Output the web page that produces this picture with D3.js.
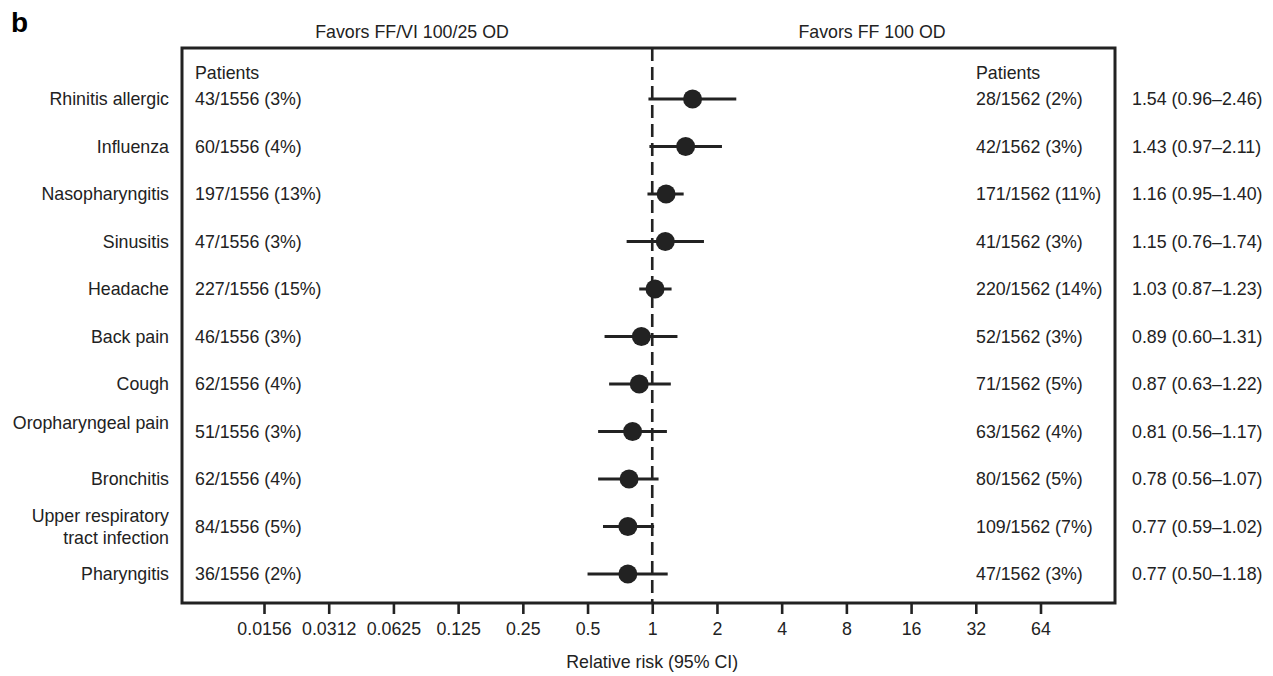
<!DOCTYPE html>
<html>
<head>
<meta charset="utf-8">
<script src="https://cdn.jsdelivr.net/npm/d3@7"></script>
<style>
  html, body { margin: 0; padding: 0; background: #fff; }
  svg text { font-family: "Liberation Sans", Arial, Helvetica, sans-serif; fill: #222; }
</style>
</head>
<body>
<svg id="chart" width="1273" height="676"></svg>
<script>
// ---- data ----
const categories = ["Rhinitis allergic", "Influenza", "Nasopharyngitis", "Sinusitis", "Headache",
  "Back pain", "Cough", "Oropharyngeal pain", "Bronchitis", "Upper respiratory\ntract infection", "Pharyngitis"];
const patientsFFVI = ["43/1556 (3%)", "60/1556 (4%)", "197/1556 (13%)", "47/1556 (3%)", "227/1556 (15%)",
  "46/1556 (3%)", "62/1556 (4%)", "51/1556 (3%)", "62/1556 (4%)", "84/1556 (5%)", "36/1556 (2%)"];
const patientsFF = ["28/1562 (2%)", "42/1562 (3%)", "171/1562 (11%)", "41/1562 (3%)", "220/1562 (14%)",
  "52/1562 (3%)", "71/1562 (5%)", "63/1562 (4%)", "80/1562 (5%)", "109/1562 (7%)", "47/1562 (3%)"];
const rr    = [1.54, 1.43, 1.16, 1.15, 1.03, 0.89, 0.87, 0.81, 0.78, 0.77, 0.77];
const ciLow = [0.96, 0.97, 0.95, 0.76, 0.87, 0.60, 0.63, 0.56, 0.56, 0.59, 0.50];
const ciHigh= [2.46, 2.11, 1.40, 1.74, 1.23, 1.31, 1.22, 1.17, 1.07, 1.02, 1.18];
const tickValues = [1/64, 1/32, 1/16, 1/8, 1/4, 1/2, 1, 2, 4, 8, 16, 32, 64];
const tickLabels = ["0.0156", "0.0312", "0.0625", "0.125", "0.25", "0.5", "1", "2", "4", "8", "16", "32", "64"];

const svg = d3.select("#chart");
const ink = "#222";
const fs = 17.8;

const box = {x0: 182, x1: 1115, y0: 48, y1: 603};
const x = d3.scaleLog().base(2).domain([1/64, 64]).range([264, 1040.5]);
const y = d3.scalePoint().domain(d3.range(categories.length)).range([99, 574]);

// panel letter
svg.append("text").attr("x", 11).attr("y", 32).attr("font-size", 28).attr("font-weight", "bold").style("fill", "#000").text("b");

// favors headers
svg.append("text").attr("x", 412).attr("y", 38).attr("text-anchor", "middle").attr("font-size", fs).text("Favors FF/VI 100/25 OD");
svg.append("text").attr("x", 872).attr("y", 38).attr("text-anchor", "middle").attr("font-size", fs).text("Favors FF 100 OD");

// box
svg.append("rect").attr("x", box.x0).attr("y", box.y0).attr("width", box.x1 - box.x0).attr("height", box.y1 - box.y0)
  .attr("fill", "none").attr("stroke", ink).attr("stroke-width", 3);

// reference dashed line at 1
svg.append("line").attr("x1", x(1)).attr("x2", x(1)).attr("y1", box.y0).attr("y2", box.y1)
  .attr("stroke", ink).attr("stroke-width", 2.6).attr("stroke-dasharray", "13,6");

// axis
const axis = d3.axisBottom(x).tickValues(tickValues).tickFormat((d, i) => tickLabels[i]).tickSize(11).tickPadding(8);
const gAxis = svg.append("g").attr("transform", `translate(0,${box.y1})`).call(axis);
gAxis.select(".domain").remove();
gAxis.selectAll(".tick line").attr("stroke", ink).attr("stroke-width", 2.6);
gAxis.selectAll(".tick text").attr("font-size", fs).attr("font-family", '"Liberation Sans", Arial, sans-serif').style("fill", ink).attr("dy", "0.71em");

svg.append("text").attr("x", x(1)).attr("y", 668).attr("text-anchor", "middle").attr("font-size", fs).text("Relative risk (95% CI)");

// column headers
svg.append("text").attr("x", 195).attr("y", 79).attr("font-size", fs).text("Patients");
svg.append("text").attr("x", 976).attr("y", 79).attr("font-size", fs).text("Patients");

const rows = svg.append("g").selectAll("g").data(categories).join("g");

// category labels
rows.each(function(c, i) {
  const g = d3.select(this);
  const lines = c.split("\n");
  let baseY = y(i) + 6;
  if (lines.length === 2) baseY = y(i) - 5;
  if (c === "Oropharyngeal pain") baseY = y(i) - 3;
  const t = g.append("text").attr("x", 169).attr("text-anchor", "end").attr("font-size", fs);
  lines.forEach((l, k) => t.append("tspan").attr("x", 169).attr("y", baseY + k * 22).text(l));
});

rows.append("text").attr("x", 195).attr("y", (d, i) => y(i) + 6).attr("font-size", fs).text((d, i) => patientsFFVI[i]);
rows.append("text").attr("x", 976).attr("y", (d, i) => y(i) + 6).attr("font-size", fs).text((d, i) => patientsFF[i]);
rows.append("text").attr("x", 1132).attr("y", (d, i) => y(i) + 6).attr("font-size", fs)
  .text((d, i) => `${rr[i].toFixed(2)} (${ciLow[i].toFixed(2)}\u2013${ciHigh[i].toFixed(2)})`);

// CI lines and points
rows.append("line").attr("x1", (d, i) => x(ciLow[i])).attr("x2", (d, i) => x(ciHigh[i]))
  .attr("y1", (d, i) => y(i)).attr("y2", (d, i) => y(i)).attr("stroke", ink).attr("stroke-width", 3);
rows.append("circle").attr("cx", (d, i) => x(rr[i])).attr("cy", (d, i) => y(i)).attr("r", 9.5).attr("fill", ink);
</script>
</body>
</html>
